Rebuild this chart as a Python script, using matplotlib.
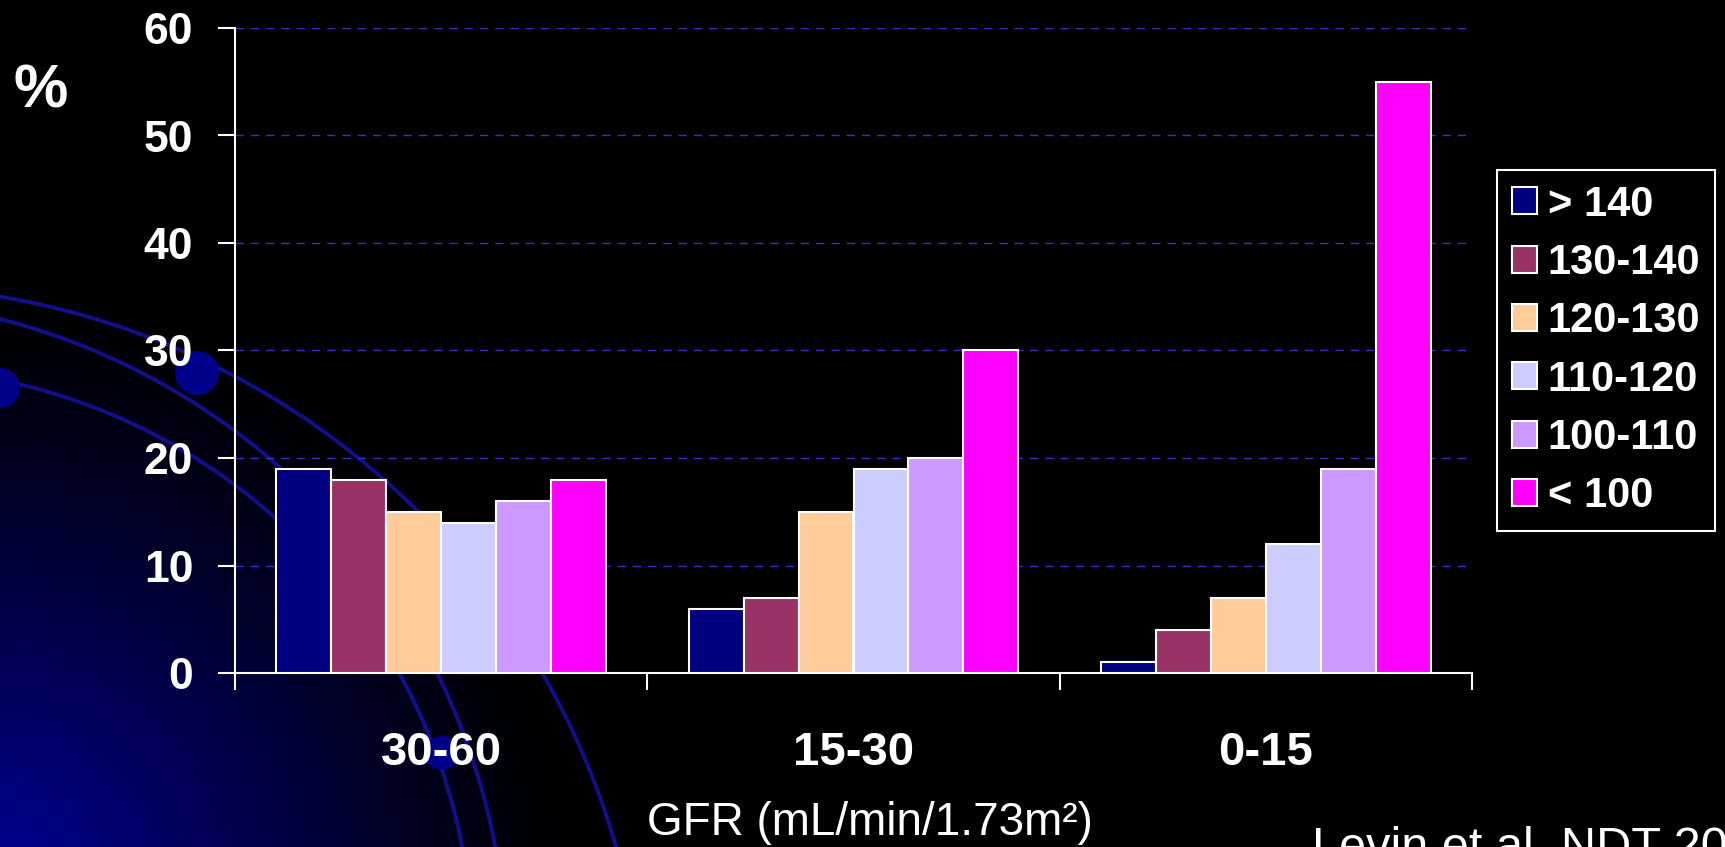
import numpy as np
import matplotlib
matplotlib.use("Agg")
import matplotlib.pyplot as plt
from matplotlib.patches import Circle

plt.rcParams['font.family'] = ['Liberation Sans', 'DejaVu Sans']

# data
categories = ['30-60', '15-30', '0-15']
series_labels = ['> 140', '130-140', '120-130', '110-120', '100-110', '< 100']
gt140 = [19, 6, 1]
s130_140 = [18, 7, 4]
s120_130 = [15, 15, 7]
s110_120 = [14, 19, 12]
s100_110 = [16, 20, 19]
lt100 = [18, 30, 55]
series_values = [gt140, s130_140, s120_130, s110_120, s100_110, lt100]
colors = ['#000080', '#993366', '#FFCC99', '#CCCCFF', '#CC99FF', '#FF00FF']
yticks = [0, 10, 20, 30, 40, 50, 60]

W, H = 1725, 847
fig = plt.figure(figsize=(W / 100, H / 100), dpi=100, facecolor='black')

# slide background: blue glow in the lower-left corner with orbit arcs
bg = fig.add_axes([0, 0, 1, 1], zorder=0)
xx, yy = np.meshgrid(np.arange(W), np.arange(H))
d = np.hypot(xx + 20, yy - 900)
f = np.clip(1 - d / 600, 0, 1) ** 1.2
img = np.zeros((H, W, 3))
img[..., 2] = 0.62 * f
bg.imshow(img, extent=[0, W, H, 0], aspect='auto', interpolation='bilinear')
for cx, cy, r in [(-128, 1060, 774), (-167, 972, 674), (-118, 959, 591)]:
    bg.add_patch(Circle((cx, cy), r, fill=False, ec='#10108c', lw=2.8))
for cx, cy, r in [(197, 373, 22), (0, 388, 20), (442, 753, 17)]:
    bg.add_patch(Circle((cx, cy), r, fc='#00008a', ec='none'))
bg.set_xlim(0, W)
bg.set_ylim(H, 0)
bg.axis('off')

# main chart
ax = fig.add_axes([235 / W, 1 - 673 / H, (1472 - 235) / W, (673 - 28) / H], zorder=1)
ax.set_facecolor('none')

x = np.arange(len(categories))
width = 1 / 7.5
for i, (vals, lab, col) in enumerate(zip(series_values, series_labels, colors)):
    ax.bar(x + (i - 2.5) * width, vals, width, color=col, edgecolor='white',
           linewidth=1.5, label=lab, zorder=3)

ax.set_xlim(-0.5, len(categories) - 0.5)
ax.set_ylim(0, 60)
ax.set_yticks(yticks)
ax.yaxis.grid(True, color='#3333cc', linestyle=(0, (6, 5)), linewidth=1)
ax.set_axisbelow(True)

ax.set_xticks(np.arange(len(categories) + 1) - 0.5)
ax.set_xticklabels([])
ax.set_xticks(x, minor=True)
ax.set_xticklabels(categories, minor=True, fontsize=34, fontweight='bold', color='white')
ax.tick_params(axis='x', which='minor', length=0, pad=42)
ax.tick_params(axis='x', which='major', length=12, width=1.5, color='white')
ax.tick_params(axis='y', length=12, width=1.5, color='white', labelcolor='white',
               labelsize=32, pad=18)
for t in ax.get_yticklabels():
    t.set_fontweight('bold')

for s in ['top', 'right']:
    ax.spines[s].set_visible(False)
for s in ['left', 'bottom']:
    ax.spines[s].set_color('white')
    ax.spines[s].set_linewidth(1.5)

leg = ax.legend(loc='upper left', bbox_to_anchor=(1497 / W, 1 - 170 / H),
                bbox_transform=fig.transFigure, prop={'size': 30, 'weight': 'bold'},
                frameon=True, fancybox=False, facecolor='black', edgecolor='white',
                framealpha=1, borderaxespad=0, handlelength=0.62, handleheight=0.62,
                handletextpad=0.25, labelspacing=0.44, borderpad=0.35)
leg.get_frame().set_linewidth(1.5)
for t in leg.get_texts():
    t.set_color('white')

fig.text(41 / W, 1 - 92 / H, '%', fontsize=44, fontweight='bold', color='white',
         ha='center', va='center')
fig.text(870 / W, 1 - 835 / H, 'GFR (mL/min/1.73m²)', fontsize=33, color='white',
         ha='center', va='baseline')
fig.text(1312 / W, 1 - 861 / H, 'Levin et al. NDT 2008', fontsize=35, color='white',
         ha='left', va='baseline')

fig.savefig('out.png', dpi=100, facecolor='black')
